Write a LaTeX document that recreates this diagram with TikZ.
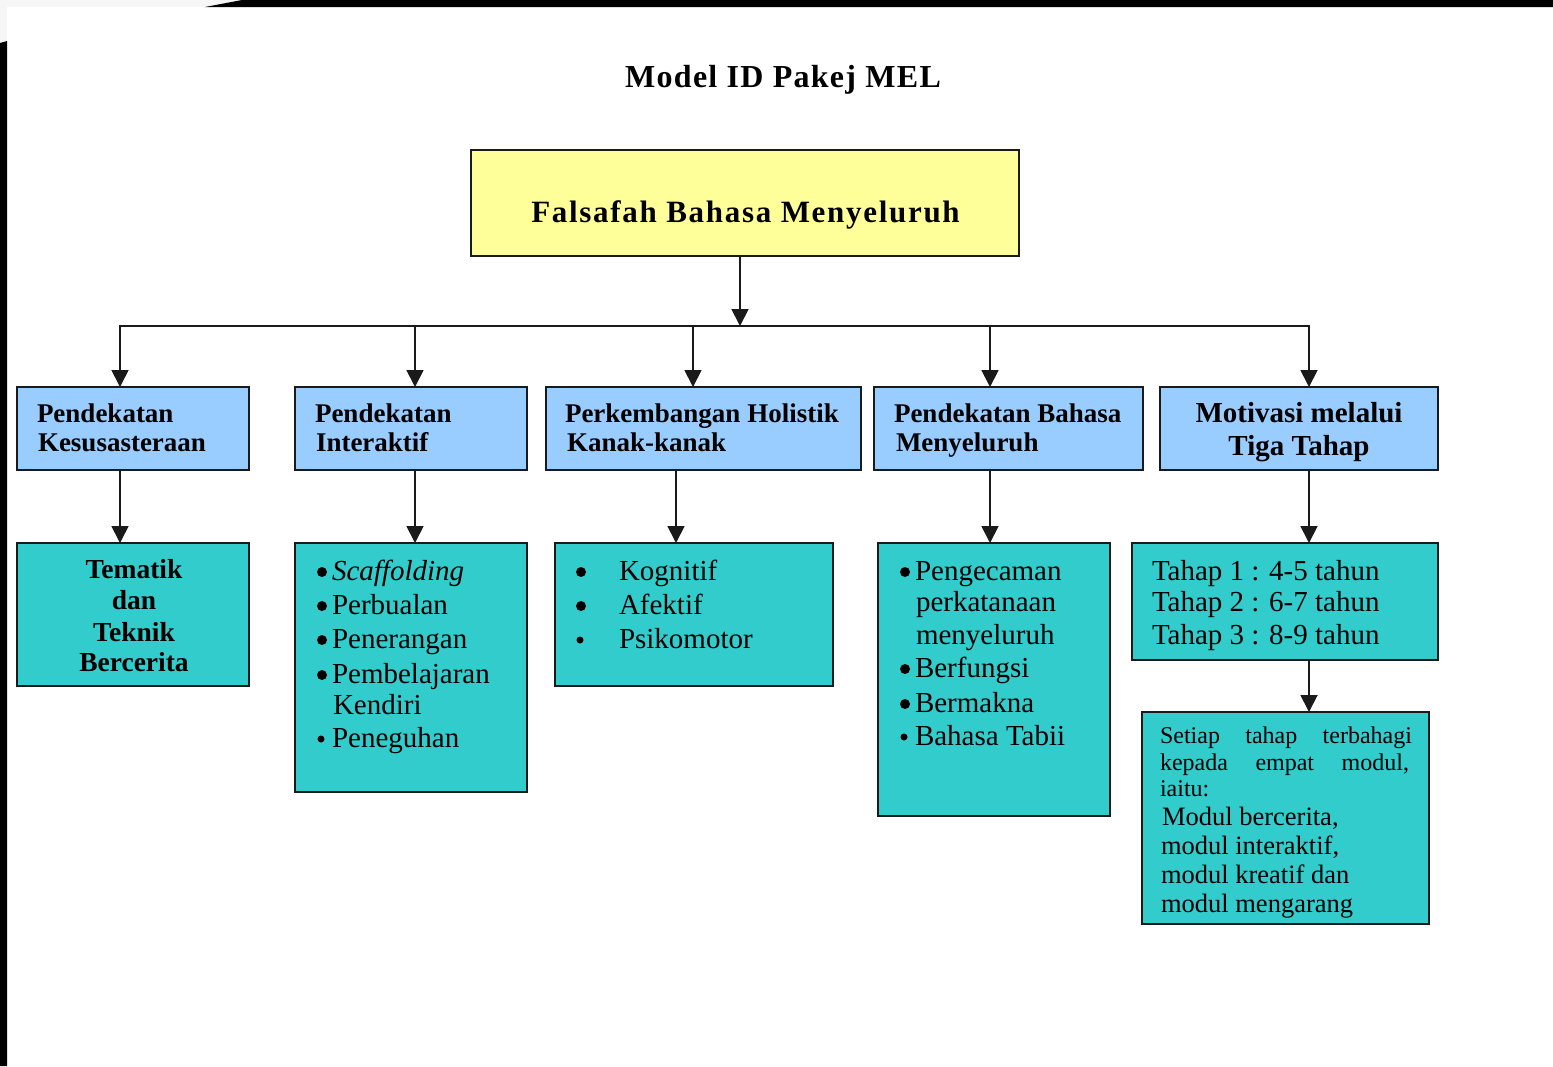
\documentclass[tikz,border=0pt]{standalone}
\usepackage{fontspec}
\setmainfont{Liberation Serif}
\usetikzlibrary{arrows.meta}
\definecolor{boxblue}{HTML}{99CCFF}
\definecolor{boxyellow}{HTML}{FFFF99}
\definecolor{boxteal}{HTML}{33CCCC}
\definecolor{edgec}{HTML}{1A1A1A}
\definecolor{pagegray}{HTML}{F6F6F6}
\begin{document}
\begin{tikzpicture}[x=1pt,y=-1pt,
 box/.style={draw=edgec, line width=1.8pt, anchor=north west, inner sep=0pt, outer sep=0pt},
 yellowbox/.style={box, fill=boxyellow},
 bluebox/.style={box, fill=boxblue},
 tealbox/.style={box, fill=boxteal},
 conn/.style={draw=edgec, line width=1.8pt},
 arr/.style={conn, -{Triangle[width=17pt,length=17pt]}},
 txt/.style={anchor=base west, inner sep=0pt, outer sep=0pt, text=black},
 ctxt/.style={anchor=base, inner sep=0pt, outer sep=0pt, text=black},
 hb/.style={font=\fontsize{27}{29}\selectfont\bfseries},
 hbl/.style={font=\fontsize{29}{33}\selectfont\bfseries},
 bodyf/.style={font=\fontsize{29}{33}\selectfont},
 smallf/.style={font=\fontsize{24}{27}\selectfont},
 midf/.style={font=\fontsize{26.5}{29}\selectfont},
 dot/.style={circle, fill=black, inner sep=0pt, minimum size=10pt},
 sdot/.style={circle, fill=black, inner sep=0pt, minimum size=7pt},
]
\useasboundingbox (0,0) rectangle (1553,1066);
\fill[white] (0,0) rectangle (1553,1066);
% screenshot frame
\fill[pagegray] (0,0) rectangle (242,7);
\fill[pagegray] (0,0) rectangle (7,43);
\fill[black] (205,7) -- (242,0) -- (1553,0) -- (1553,7) -- cycle;
\fill[black] (0,43) -- (7,41) -- (7,1066) -- (0,1066) -- cycle;

% title
\node[ctxt, font=\fontsize{32}{35}\selectfont\bfseries\addfontfeatures{LetterSpace=4}] (title) at (783,87) {Model ID Pakej MEL};

% top box
\node[yellowbox, minimum width=548pt, minimum height=106pt] (top) at (471,150) {};
\node[ctxt, font=\fontsize{31}{35}\selectfont\bfseries\addfontfeatures{LetterSpace=5.5}] (toptxt) at (745.5,222) {Falsafah Bahasa Menyeluruh};

% blue boxes
\node[bluebox, minimum width=232pt, minimum height=83pt] (b1) at (17,387) {};
\node[bluebox, minimum width=232pt, minimum height=83pt] (b2) at (295,387) {};
\node[bluebox, minimum width=315pt, minimum height=83pt] (b3) at (546,387) {};
\node[bluebox, minimum width=269pt, minimum height=83pt] (b4) at (874,387) {};
\node[bluebox, minimum width=278pt, minimum height=83pt] (b5) at (1160,387) {};

\node[txt, hb] (b1a) at (37,422) {Pendekatan};
\node[txt, hb] (b1b) at (38,451) {Kesusasteraan};
\node[txt, hb] (b2a) at (315,422) {Pendekatan};
\node[txt, hb] (b2b) at (316,451) {Interaktif};
\node[txt, hb] (b3a) at (565,422) {Perkembangan Holistik};
\node[txt, hb] (b3b) at (567,451) {Kanak-kanak};
\node[txt, hb] (b4a) at (894,422) {Pendekatan Bahasa};
\node[txt, hb] (b4b) at (896,451) {Menyeluruh};
\node[ctxt, hbl] (b5a) at (1299,422) {Motivasi melalui};
\node[ctxt, hbl] (b5b) at (1299,455) {Tiga Tahap};

% teal boxes
\node[tealbox, minimum width=232pt, minimum height=143pt] (t1) at (17,543) {};
\node[tealbox, minimum width=232pt, minimum height=249pt] (t2) at (295,543) {};
\node[tealbox, minimum width=278pt, minimum height=143pt] (t3) at (555,543) {};
\node[tealbox, minimum width=232pt, minimum height=273pt] (t4) at (878,543) {};
\node[tealbox, minimum width=306pt, minimum height=117pt] (t5) at (1132,543) {};
\node[tealbox, minimum width=287pt, minimum height=212pt] (t6) at (1142,712) {};

% teal 1
\node[ctxt, font=\fontsize{27.5}{31}\selectfont\bfseries] (t1a) at (134,578) {Tematik};
\node[ctxt, font=\fontsize{27.5}{31}\selectfont\bfseries] (t1b) at (134,609) {dan};
\node[ctxt, font=\fontsize{27.5}{31}\selectfont\bfseries] (t1c) at (134,641) {Teknik};
\node[ctxt, font=\fontsize{27.5}{31}\selectfont\bfseries] (t1d) at (134,671) {Bercerita};

% teal 2
\node[dot] (d2a) at (322,572) {};
\node[dot] (d2b) at (322,606) {};
\node[dot] (d2c) at (322,640) {};
\node[dot] (d2d) at (322,675) {};
\node[sdot] (d2e) at (321,739) {};
\node[txt, bodyf] (t2a) at (332,580) {\textit{Scaffolding}};
\node[txt, bodyf] (t2b) at (332,614) {Perbualan};
\node[txt, bodyf] (t2c) at (332,648) {Penerangan};
\node[txt, bodyf] (t2d) at (332,683) {Pembelajaran};
\node[txt, bodyf] (t2e) at (333,714) {Kendiri};
\node[txt, bodyf] (t2f) at (332,747) {Peneguhan};

% teal 3
\node[dot] (d3a) at (581,572) {};
\node[dot] (d3b) at (581,606) {};
\node[sdot] (d3c) at (580,640) {};
\node[txt, bodyf] (t3a) at (619,580) {Kognitif};
\node[txt, bodyf] (t3b) at (619,614) {Afektif};
\node[txt, bodyf] (t3c) at (619,648) {Psikomotor};

% teal 4
\node[dot] (d4a) at (905,572) {};
\node[dot] (d4b) at (905,669) {};
\node[dot] (d4c) at (905,704) {};
\node[sdot] (d4d) at (904,737) {};
\node[txt, bodyf] (t4a) at (915,580) {Pengecaman};
\node[txt, bodyf] (t4b) at (916,611) {perkatanaan};
\node[txt, bodyf] (t4c) at (916,644) {menyeluruh};
\node[txt, bodyf] (t4d) at (915,677) {Berfungsi};
\node[txt, bodyf] (t4e) at (915,712) {Bermakna};
\node[txt, bodyf] (t4f) at (915,745) {Bahasa Tabii};

% teal 5
\node[txt, bodyf] (t5a) at (1152,580) {Tahap 1 : 4-5 tahun};
\node[txt, bodyf] (t5b) at (1152,611) {Tahap 2 : 6-7 tahun};
\node[txt, bodyf] (t5c) at (1152,644) {Tahap 3 : 8-9 tahun};

% teal 6
\node[txt, smallf] (t6a) at (1160,743) {\hbox to 252pt{Setiap\hfill tahap\hfill terbahagi}};
\node[txt, smallf] (t6b) at (1160,770) {\hbox to 249pt{kepada\hfill empat\hfill modul,}};
\node[txt, smallf] (t6c) at (1160,796) {iaitu:};
\node[txt, midf] (t6d) at (1162,825) {Modul bercerita,};
\node[txt, midf] (t6e) at (1161,854) {modul interaktif,};
\node[txt, midf] (t6f) at (1161,883) {modul kreatif dan};
\node[txt, midf] (t6g) at (1161,912) {modul mengarang};

% connectors
\coordinate (hub) at (740,326);
\coordinate (j1) at (120,326);
\coordinate (j2) at (415,326);
\coordinate (j3) at (693,326);
\coordinate (j4) at (990,326);
\coordinate (j5) at (1309,326);
\coordinate (k3) at (676,500);

\draw[arr] (top.south -| hub) -- (hub);
\draw[conn, line cap=rect] (j1) -- (j5);
\draw[arr] (j1) -- (j1 |- b1.north);
\draw[arr] (j2) -- (j2 |- b2.north);
\draw[arr] (j3) -- (j3 |- b3.north);
\draw[arr] (j4) -- (j4 |- b4.north);
\draw[arr] (j5) -- (j5 |- b5.north);

\draw[arr] (b1.south -| j1) -- (t1.north -| j1);
\draw[arr] (b2.south -| j2) -- (t2.north -| j2);
\draw[arr] (b3.south -| k3) -- (t3.north -| k3);
\draw[arr] (b4.south -| j4) -- (t4.north -| j4);
\draw[arr] (b5.south -| j5) -- (t5.north -| j5);
\draw[arr] (t5.south -| j5) -- (t6.north -| j5);
\end{tikzpicture}
\end{document}
